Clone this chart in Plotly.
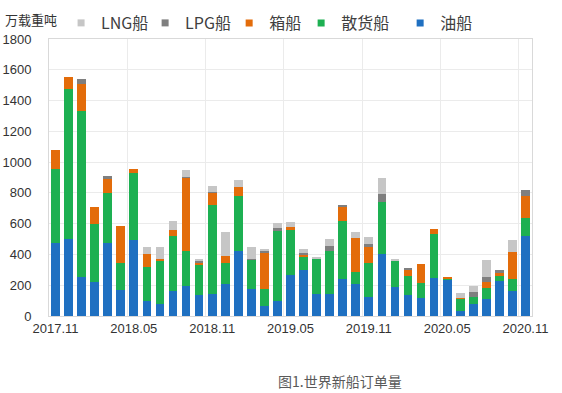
import plotly.graph_objects as go

months = ["2017.11", "2017.12", "2018.01", "2018.02", "2018.03", "2018.04", "2018.05",
          "2018.06", "2018.07", "2018.08", "2018.09", "2018.10", "2018.11", "2018.12",
          "2019.01", "2019.02", "2019.03", "2019.04", "2019.05", "2019.06", "2019.07",
          "2019.08", "2019.09", "2019.10", "2019.11", "2019.12", "2020.01", "2020.02",
          "2020.03", "2020.04", "2020.05", "2020.06", "2020.07", "2020.08", "2020.09",
          "2020.10", "2020.11"]

tanker = [477, 501, 256, 219, 473, 167, 492, 98, 78, 160, 195, 134, 145, 206, 425, 178, 65, 98, 267,
          300, 143, 143, 238, 206, 126, 401, 191, 134, 115, 249, 234, 35, 80, 108, 230, 160, 520]
bulk = [479, 971, 1073, 379, 325, 180, 438, 219, 282, 360, 230, 200, 575, 139, 355, 186, 108, 453, 292,
        86, 228, 282, 380, 82, 219, 338, 169, 126, 97, 282, 9, 78, 46, 76, 30, 78, 117]
container = [121, 82, 176, 113, 95, 238, 26, 86, 13, 39, 473, 12, 80, 45, 61, 0, 235, 0, 18,
             10, 0, 0, 89, 217, 102, 0, 0, 44, 126, 33, 11, 5, 0, 39, 22, 178, 143]
lpg = [0, 0, 36, 0, 20, 0, 0, 0, 0, 0, 8, 10, 8, 0, 0, 9, 20, 19, 0,
       15, 0, 32, 15, 0, 21, 54, 0, 8, 0, 0, 0, 0, 30, 28, 17, 0, 42]
lng = [0, 0, 0, 0, 0, 0, 0, 48, 78, 59, 40, 15, 38, 156, 41, 78, 10, 37, 34,
       27, 15, 42, 0, 41, 48, 105, 13, 0, 0, 0, 0, 34, 39, 115, 0, 78, 0]

series = [
    ("油船", tanker, "#1F70C1"),
    ("散货船", bulk, "#1DB052"),
    ("箱船", container, "#E36C0A"),
    ("LPG船", lpg, "#7F7F7F"),
    ("LNG船", lng, "#C6C6C6"),
]
# legend slot (one legend per series so each entry sits where the reference puts it)
legend_ids = ["legend5", "legend4", "legend3", "legend2", "legend"]
legend_x = [0.727, 0.522, 0.373, 0.199, 0.025]

fig = go.Figure()
for name, vals, color in series:
    fig.add_trace(go.Bar(x=months, y=vals, name=name, marker=dict(color=color, line=dict(width=0)),
                         showlegend=False))
for (name, vals, color), lid in zip(series, legend_ids):
    fig.add_trace(go.Scatter(x=[None], y=[None], mode="markers", name=name, legend=lid,
                             marker=dict(symbol="square", size=7, color=color)))

legend_style = dict(orientation="h", xanchor="left", yref="container", y=0.9415,
                    yanchor="middle", itemwidth=30,
                    font=dict(family="Noto Sans CJK SC", size=16, color="#404040"),
                    bgcolor="rgba(0,0,0,0)")
legends = {lid: dict(legend_style, x=lx) for lid, lx in zip(legend_ids, legend_x)}

fig.update_layout(
    width=562, height=393,
    margin=dict(l=49, r=30, t=39, b=77, autoexpand=False),
    barmode="stack", bargap=0.33,
    plot_bgcolor="white", paper_bgcolor="white",
    font=dict(family="Liberation Sans, Arial, sans-serif", size=13, color="#333333"),
    annotations=[
        dict(text="万载重吨", xref="paper", yref="paper", x=-0.095, y=1.072, xanchor="left",
             yanchor="middle", showarrow=False,
             font=dict(family="Noto Sans CJK SC", size=13, color="#333333")),
        dict(text="图1.世界新船订单量", xref="paper", yref="paper", x=0.6035, y=-0.235,
             xanchor="center", yanchor="middle", showarrow=False,
             font=dict(family="Noto Sans CJK SC", size=14, color="#595959")),
    ],
    **legends,
)
fig.update_xaxes(type="category", tickson="boundaries", tickmode="linear", tick0=0, dtick=6,
                 tickangle=0, automargin=False,
                 showgrid=True, gridcolor="#EBEBEB", ticks="", showline=True, linecolor="#D9D9D9",
                 mirror=True, tickfont=dict(size=13, color="#333333"))
fig.update_yaxes(range=[0, 1800], dtick=200, showgrid=True, gridcolor="#EBEBEB", automargin=False,
                 showline=True, linecolor="#D9D9D9", mirror=True, ticks="outside", ticklen=14,
                 tickcolor="rgba(0,0,0,0)", tickfont=dict(size=13, color="#333333"), zeroline=False)

fig.write_html("out.html", config={"displayModeBar": False},
               post_script="document.body.style.margin='0';")
